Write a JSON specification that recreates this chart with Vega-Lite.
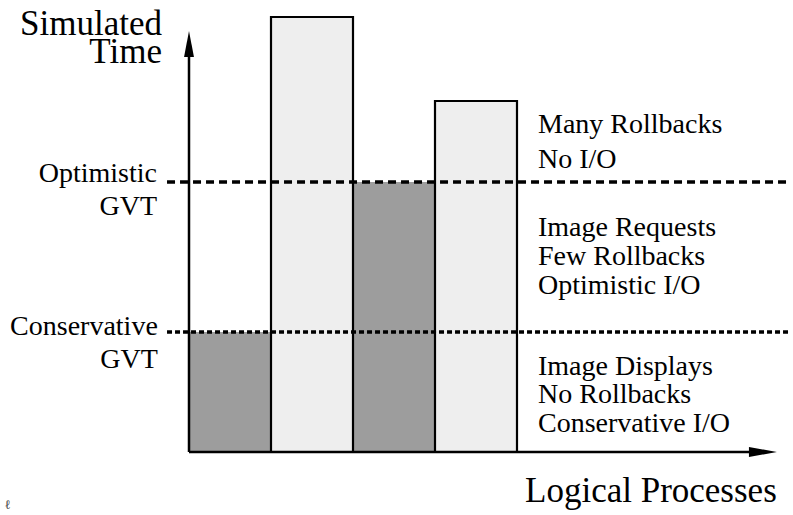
{
  "$schema": "https://vega.github.io/schema/vega-lite/v6.json",
  "width": 793,
  "height": 515,
  "autosize": {"type": "none"},
  "padding": 0,
  "background": "white",
  "config": {"view": {"stroke": null}, "text": {"font": "Liberation Serif", "color": "black", "baseline": "alphabetic"}},
  "datasets": {
    "bars": [
      {"process": 1, "start": 0, "end": 1, "time": 4, "mode": "Conservative"},
      {"process": 2, "start": 1, "end": 2, "time": 14.5, "mode": "Optimistic"},
      {"process": 3, "start": 2, "end": 3, "time": 9, "mode": "Conservative"},
      {"process": 4, "start": 3, "end": 4, "time": 11.7, "mode": "Optimistic"}
    ],
    "gvt": [
      {"gvt": "Optimistic", "from": -0.268, "to": 7.33, "time": 9},
      {"gvt": "Conservative", "from": -0.268, "to": 7.33, "time": 4}
    ],
    "axes": [
      {"axis": "process", "from": 0, "to": 6.9, "time": 0, "tipx": 7.17, "tipy": 0},
      {"axis": "time", "from": 0, "to": 13.5, "time": 0, "tipx": 0, "tipy": 14.03}
    ],
    "labels": [
      {"role": "ytitle", "text": "Simulated\nTime", "u": -0.33, "t": 13.9},
      {"role": "xtitle", "text": "Logical Processes", "u": 4.098, "t": -1.667},
      {"role": "gvt", "text": "Optimistic\nGVT", "u": -0.39, "t": 9.0},
      {"role": "gvt", "text": "Conservative\nGVT", "u": -0.38, "t": 3.9},
      {"role": "regime", "text": "Many Rollbacks", "u": 4.256, "t": 10.63},
      {"role": "regime", "text": "No I/O", "u": 4.256, "t": 9.47},
      {"role": "regime", "text": "Image Requests", "u": 4.256, "t": 7.2},
      {"role": "regime", "text": "Few Rollbacks", "u": 4.256, "t": 6.23},
      {"role": "regime", "text": "Optimistic I/O", "u": 4.256, "t": 5.27},
      {"role": "regime", "text": "Image Displays", "u": 4.256, "t": 2.57},
      {"role": "regime", "text": "No Rollbacks", "u": 4.256, "t": 1.63},
      {"role": "regime", "text": "Conservative I/O", "u": 4.256, "t": 0.67},
      {"role": "mark", "text": "ℓ", "u": -2.25, "t": -1.9}
    ]
  },
  "layer": [
    {
      "data": {"name": "bars"},
      "mark": {"type": "rect", "strokeWidth": 0},
      "encoding": {
        "x": {"field": "start", "type": "quantitative", "scale": {"domain": [-2.3049, 7.3659], "nice": false, "zero": false}, "axis": null},
        "x2": {"field": "end"},
        "y": {"field": "time", "type": "quantitative", "scale": {"domain": [-2.1, 15.0667], "nice": false, "zero": false}, "axis": null},
        "y2": {"datum": 0},
        "color": {"field": "mode", "type": "nominal", "scale": {"domain": ["Conservative", "Optimistic"], "range": ["#9d9d9d", "#eeeeee"]}, "legend": null}
      }
    },
    {
      "data": {"name": "bars"},
      "transform": [{"filter": "datum.mode === 'Optimistic'"}],
      "mark": {"type": "rect", "fill": null, "fillOpacity": 0, "stroke": "black", "strokeWidth": 2.2},
      "encoding": {
        "x": {"field": "start", "type": "quantitative", "scale": {"domain": [-2.3049, 7.3659], "nice": false, "zero": false}, "axis": null},
        "x2": {"field": "end"},
        "y": {"field": "time", "type": "quantitative", "scale": {"domain": [-2.1, 15.0667], "nice": false, "zero": false}, "axis": null},
        "y2": {"datum": 0}
      }
    },
    {
      "data": {"name": "gvt"},
      "transform": [{"filter": "datum.gvt === 'Optimistic'"}],
      "mark": {"type": "rule", "color": "black", "strokeWidth": 3.5, "strokeDash": [8, 5]},
      "encoding": {
        "x": {"field": "from", "type": "quantitative", "scale": {"domain": [-2.3049, 7.3659], "nice": false, "zero": false}, "axis": null},
        "x2": {"field": "to"},
        "y": {"field": "time", "type": "quantitative", "scale": {"domain": [-2.1, 15.0667], "nice": false, "zero": false}, "axis": null}
      }
    },
    {
      "data": {"name": "gvt"},
      "transform": [{"filter": "datum.gvt === 'Conservative'"}],
      "mark": {"type": "rule", "color": "black", "strokeWidth": 3.5, "strokeDash": [5, 3]},
      "encoding": {
        "x": {"field": "from", "type": "quantitative", "scale": {"domain": [-2.3049, 7.3659], "nice": false, "zero": false}, "axis": null},
        "x2": {"field": "to"},
        "y": {"field": "time", "type": "quantitative", "scale": {"domain": [-2.1, 15.0667], "nice": false, "zero": false}, "axis": null}
      }
    },
    {
      "data": {"name": "axes"},
      "transform": [{"filter": "datum.axis === 'process'"}],
      "mark": {"type": "rule", "color": "black", "strokeWidth": 2.5},
      "encoding": {
        "x": {"field": "from", "type": "quantitative", "scale": {"domain": [-2.3049, 7.3659], "nice": false, "zero": false}, "axis": null},
        "x2": {"field": "to"},
        "y": {"field": "time", "type": "quantitative", "scale": {"domain": [-2.1, 15.0667], "nice": false, "zero": false}, "axis": null}
      }
    },
    {
      "data": {"name": "axes"},
      "transform": [{"filter": "datum.axis === 'time'"}],
      "mark": {"type": "rule", "color": "black", "strokeWidth": 2.5},
      "encoding": {
        "x": {"field": "time", "type": "quantitative", "scale": {"domain": [-2.3049, 7.3659], "nice": false, "zero": false}, "axis": null},
        "y": {"field": "from", "type": "quantitative", "scale": {"domain": [-2.1, 15.0667], "nice": false, "zero": false}, "axis": null},
        "y2": {"field": "to"}
      }
    },
    {
      "data": {"name": "axes"},
      "transform": [{"filter": "datum.axis === 'process'"}],
      "mark": {"type": "point", "shape": "M0,0L-2,-0.36L-2,0.36Z", "size": 784, "filled": true, "color": "black", "opacity": 1, "strokeWidth": 0},
      "encoding": {
        "x": {"field": "tipx", "type": "quantitative", "scale": {"domain": [-2.3049, 7.3659], "nice": false, "zero": false}, "axis": null},
        "y": {"field": "tipy", "type": "quantitative", "scale": {"domain": [-2.1, 15.0667], "nice": false, "zero": false}, "axis": null}
      }
    },
    {
      "data": {"name": "axes"},
      "transform": [{"filter": "datum.axis === 'time'"}],
      "mark": {"type": "point", "shape": "M0,0L0.38,2L-0.38,2Z", "size": 676, "filled": true, "color": "black", "opacity": 1, "strokeWidth": 0},
      "encoding": {
        "x": {"field": "tipx", "type": "quantitative", "scale": {"domain": [-2.3049, 7.3659], "nice": false, "zero": false}, "axis": null},
        "y": {"field": "tipy", "type": "quantitative", "scale": {"domain": [-2.1, 15.0667], "nice": false, "zero": false}, "axis": null}
      }
    },
    {
      "data": {"name": "labels"},
      "transform": [{"filter": "datum.role === 'ytitle'"}],
      "mark": {"type": "text", "align": "right", "fontSize": 35, "lineBreak": "\n", "lineHeight": 28},
      "encoding": {
        "x": {"field": "u", "type": "quantitative", "scale": {"domain": [-2.3049, 7.3659], "nice": false, "zero": false}, "axis": null},
        "y": {"field": "t", "type": "quantitative", "scale": {"domain": [-2.1, 15.0667], "nice": false, "zero": false}, "axis": null},
        "text": {"field": "text"}
      }
    },
    {
      "data": {"name": "labels"},
      "transform": [{"filter": "datum.role === 'xtitle'"}],
      "mark": {"type": "text", "align": "left", "fontSize": 35},
      "encoding": {
        "x": {"field": "u", "type": "quantitative", "scale": {"domain": [-2.3049, 7.3659], "nice": false, "zero": false}, "axis": null},
        "y": {"field": "t", "type": "quantitative", "scale": {"domain": [-2.1, 15.0667], "nice": false, "zero": false}, "axis": null},
        "text": {"field": "text"}
      }
    },
    {
      "data": {"name": "labels"},
      "transform": [{"filter": "datum.role === 'gvt'"}],
      "mark": {"type": "text", "align": "right", "fontSize": 28, "lineBreak": "\n", "lineHeight": 33},
      "encoding": {
        "x": {"field": "u", "type": "quantitative", "scale": {"domain": [-2.3049, 7.3659], "nice": false, "zero": false}, "axis": null},
        "y": {"field": "t", "type": "quantitative", "scale": {"domain": [-2.1, 15.0667], "nice": false, "zero": false}, "axis": null},
        "text": {"field": "text"}
      }
    },
    {
      "data": {"name": "labels"},
      "transform": [{"filter": "datum.role === 'regime'"}],
      "mark": {"type": "text", "align": "left", "fontSize": 28},
      "encoding": {
        "x": {"field": "u", "type": "quantitative", "scale": {"domain": [-2.3049, 7.3659], "nice": false, "zero": false}, "axis": null},
        "y": {"field": "t", "type": "quantitative", "scale": {"domain": [-2.1, 15.0667], "nice": false, "zero": false}, "axis": null},
        "text": {"field": "text"}
      }
    },
    {
      "data": {"name": "labels"},
      "transform": [{"filter": "datum.role === 'mark'"}],
      "mark": {"type": "text", "align": "left", "fontSize": 13, "color": "#444444"},
      "encoding": {
        "x": {"field": "u", "type": "quantitative", "scale": {"domain": [-2.3049, 7.3659], "nice": false, "zero": false}, "axis": null},
        "y": {"field": "t", "type": "quantitative", "scale": {"domain": [-2.1, 15.0667], "nice": false, "zero": false}, "axis": null},
        "text": {"field": "text"}
      }
    }
  ]
}
